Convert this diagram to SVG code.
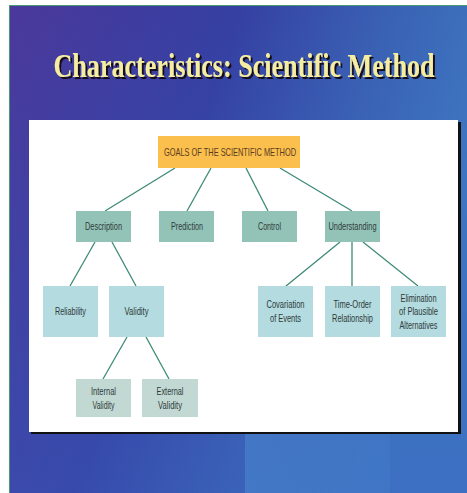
<svg xmlns="http://www.w3.org/2000/svg" width="467" height="493" viewBox="0 0 467 493">
  <defs>
    <linearGradient id="bg" x1="0" y1="0" x2="1" y2="0.35">
      <stop offset="0" stop-color="#4b389b"/>
      <stop offset="0.45" stop-color="#3540a2"/>
      <stop offset="0.75" stop-color="#3a62b4"/>
      <stop offset="1" stop-color="#3e78c2"/>
    </linearGradient>
    <linearGradient id="bg2" x1="0" y1="0" x2="0" y2="1">
      <stop offset="0" stop-color="#3a60c0" stop-opacity="0"/>
      <stop offset="1" stop-color="#3a60c0" stop-opacity="0.35"/>
    </linearGradient>
    <linearGradient id="streak" x1="0" y1="0" x2="1" y2="0">
      <stop offset="0" stop-color="#4a8ad0" stop-opacity="0.55"/>
      <stop offset="1" stop-color="#4a8ad0" stop-opacity="0.2"/>
    </linearGradient>
    <filter id="shadow" x="-5%" y="-20%" width="110%" height="140%">
      <feDropShadow dx="2" dy="2" stdDeviation="0.6" flood-color="#140f1c" flood-opacity="1"/>
    </filter>
    <style>
      .lvl1 { fill: #93c3b7; }
      .lvl2 { fill: #b4dbdf; }
      .lvl3 { fill: #c2d8d3; }
      .t { font-family: "Liberation Sans", Arial, sans-serif; font-size: 10.5px; fill: #2e3a3a; text-anchor: middle; }
      .edge { stroke: #3d8a78; stroke-width: 1.3; fill: none; }
    </style>
  </defs>
  <rect x="0" y="0" width="467" height="493" fill="#ffffff"/>
  <rect x="9" y="5" width="458" height="488" fill="url(#bg)"/>
  <rect x="9" y="5" width="458" height="488" fill="url(#bg2)"/>
  <rect x="245" y="434" width="145" height="59" fill="url(#streak)"/>
  <line x1="9.5" y1="5" x2="9.5" y2="493" stroke="#4a9a70" stroke-width="1"/>
  <line x1="9" y1="5.5" x2="467" y2="5.5" stroke="#4a9a70" stroke-width="1"/>

  <g id="title">
    <text x="244" y="77" text-anchor="middle" textLength="381" lengthAdjust="spacingAndGlyphs" font-family="'Liberation Serif', 'Times New Roman', serif" font-weight="bold" font-size="33" fill="#f5eea2" filter="url(#shadow)">Characteristics: Scientific Method</text>
  </g>

  <g id="panel">
    <rect x="31" y="122" width="430" height="312" fill="#111111"/>
    <rect x="29" y="120" width="429" height="312" fill="#ffffff"/>
  </g>

  <g id="connectors">
    <line class="edge" x1="175" y1="168" x2="105" y2="211"/>
    <line class="edge" x1="211" y1="168" x2="187" y2="211"/>
    <line class="edge" x1="246" y1="168" x2="268" y2="211"/>
    <line class="edge" x1="280" y1="168" x2="352" y2="211"/>
    <line class="edge" x1="95" y1="242" x2="70" y2="286"/>
    <line class="edge" x1="112" y1="242" x2="136" y2="286"/>
    <line class="edge" x1="340" y1="242" x2="286" y2="286"/>
    <line class="edge" x1="352" y1="242" x2="352" y2="286"/>
    <line class="edge" x1="363" y1="242" x2="418" y2="286"/>
    <line class="edge" x1="127" y1="337" x2="103" y2="379"/>
    <line class="edge" x1="146" y1="337" x2="169" y2="379"/>
  </g>

  <g id="goals">
    <rect x="158" y="136" width="142" height="32" fill="#fbbf4e"/>
    <text class="t" x="230" y="156" textLength="132" lengthAdjust="spacingAndGlyphs" style="fill:#5a3c1e">GOALS OF THE SCIENTIFIC METHOD</text>
  </g>

  <g id="description">
    <rect class="lvl1" x="76" y="211" width="55" height="31"/>
    <text class="t" x="103.5" y="229.5" textLength="37" lengthAdjust="spacingAndGlyphs">Description</text>
  </g>
  <g id="prediction">
    <rect class="lvl1" x="159" y="211" width="55" height="31"/>
    <text class="t" x="187" y="229.5" textLength="32" lengthAdjust="spacingAndGlyphs">Prediction</text>
  </g>
  <g id="control">
    <rect class="lvl1" x="242" y="211" width="55" height="31"/>
    <text class="t" x="269.5" y="229.5" textLength="23" lengthAdjust="spacingAndGlyphs">Control</text>
  </g>
  <g id="understanding">
    <rect class="lvl1" x="325" y="211" width="55" height="31"/>
    <text class="t" x="352.5" y="229.5" textLength="48" lengthAdjust="spacingAndGlyphs">Understanding</text>
  </g>

  <g id="reliability">
    <rect class="lvl2" x="43" y="286" width="55" height="51"/>
    <text class="t" x="70.5" y="314.5" textLength="31" lengthAdjust="spacingAndGlyphs">Reliability</text>
  </g>
  <g id="validity">
    <rect class="lvl2" x="109" y="286" width="55" height="51"/>
    <text class="t" x="136.5" y="314.5" textLength="24" lengthAdjust="spacingAndGlyphs">Validity</text>
  </g>
  <g id="covariation">
    <rect class="lvl2" x="258" y="286" width="55" height="51"/>
    <text class="t" x="285.5" y="307.5" textLength="38" lengthAdjust="spacingAndGlyphs">Covariation</text>
    <text class="t" x="285.5" y="321.5" textLength="31" lengthAdjust="spacingAndGlyphs">of Events</text>
  </g>
  <g id="time-order">
    <rect class="lvl2" x="325" y="286" width="55" height="51"/>
    <text class="t" x="352.5" y="307.5" textLength="38" lengthAdjust="spacingAndGlyphs">Time-Order</text>
    <text class="t" x="352.5" y="321.5" textLength="41" lengthAdjust="spacingAndGlyphs">Relationship</text>
  </g>
  <g id="elimination">
    <rect class="lvl2" x="391" y="286" width="55" height="51"/>
    <text class="t" x="418.5" y="301.5" textLength="36" lengthAdjust="spacingAndGlyphs">Elimination</text>
    <text class="t" x="418.5" y="315" textLength="39" lengthAdjust="spacingAndGlyphs">of Plausible</text>
    <text class="t" x="418.5" y="328.5" textLength="38" lengthAdjust="spacingAndGlyphs">Alternatives</text>
  </g>

  <g id="internal-validity">
    <rect class="lvl3" x="76" y="379" width="55" height="38"/>
    <text class="t" x="103.5" y="394.5" textLength="25" lengthAdjust="spacingAndGlyphs">Internal</text>
    <text class="t" x="103.5" y="408.5" textLength="22" lengthAdjust="spacingAndGlyphs">Validity</text>
  </g>
  <g id="external-validity">
    <rect class="lvl3" x="142" y="379" width="56" height="38"/>
    <text class="t" x="170" y="394.5" textLength="27" lengthAdjust="spacingAndGlyphs">External</text>
    <text class="t" x="170" y="408.5" textLength="24" lengthAdjust="spacingAndGlyphs">Validity</text>
  </g>
</svg>
